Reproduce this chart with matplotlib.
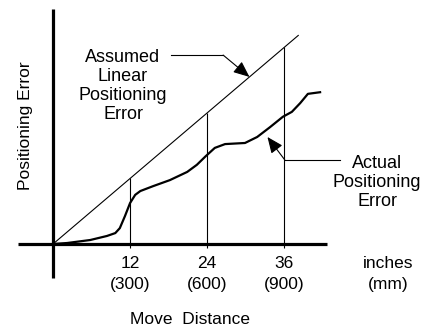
import matplotlib
matplotlib.use("Agg")
import matplotlib.pyplot as plt

plt.rcParams["font.family"] = ["Liberation Sans", "DejaVu Sans"]

# move distance in inches, error in the same units as the linear line
actual_x = [0, 2.2, 5.8, 8.4, 9.7, 10.4, 11.2, 12.0, 12.8, 13.6, 15.6, 18.2,
            20.9, 22.4, 23.8, 25.2, 26.8, 29.9, 31.8, 33.8, 35.8, 37.2, 38.5,
            39.7, 41.6]
actual_y = [0, 0.18, 0.73, 1.47, 2.0, 2.9, 5.1, 7.5, 9.0, 9.7, 10.6, 11.7,
            13.2, 14.5, 16.1, 17.6, 18.3, 18.5, 19.6, 21.4, 23.3, 24.2, 25.8,
            27.5, 27.8]
linear_x = [0, 38.2]
linear_y = [0, 38.2]
ticks = [12, 24, 36]
tick_inch = ["12", "24", "36"]
tick_mm = ["(300)", "(600)", "(900)"]

fig = plt.figure(figsize=(4.3, 3.29), dpi=100)
ax = fig.add_axes([0, 0, 1, 1])
ax.set_xlim(-8.26, 58.72)
ax.set_ylim(-15.57, 44.69)
ax.axis("off")

# axes drawn by hand, the horizontal one sticks out to the left
ax.plot([-5.45, 42.7], [0, 0], color="black", lw=2.3, solid_capstyle="butt")
ax.plot([0, 0], [-6.2, 43.0], color="black", lw=2.3, solid_capstyle="butt")

ax.plot(linear_x, linear_y, color="black", lw=0.8)
ax.vlines(ticks, -0.7, ticks, color="black", lw=0.8)
ax.plot(actual_x, actual_y, color="black", lw=1.6, solid_joinstyle="round")

for t, a, b in zip(ticks, tick_inch, tick_mm):
    ax.text(t, -3.66, a, ha="center", va="center", fontsize=12.5)
    ax.text(t, -7.5, b, ha="center", va="center", fontsize=12.5)
ax.text(52.2, -3.66, "inches", ha="center", va="center", fontsize=12.5)
ax.text(52.2, -7.5, "(mm)", ha="center", va="center", fontsize=12.5)
ax.text(21.3, -13.9, "Move  Distance", ha="center", va="center", fontsize=12.5)
ax.text(-4.36, 21.6, "Positioning Error", ha="center", va="center",
        rotation=90, fontsize=12.5)

ax.text(10.9, 28.9, "Assumed\nLinear\nPositioning\nError", ha="center",
        va="center", fontsize=13, linespacing=1.15)
ax.plot([18.4, 26.5], [34.6, 34.6], color="black", lw=0.8)
ax.annotate("", xy=(30.6, 30.6), xytext=(26.5, 34.6),
            arrowprops=dict(arrowstyle="-|>,head_length=0.7,head_width=0.3",
                            color="black", lw=0.8, shrinkA=0, shrinkB=0,
                            mutation_scale=14))

ax.text(50.5, 11.2, "Actual\nPositioning\nError", ha="center",
        va="center", fontsize=13, linespacing=1.15)
ax.plot([44.7, 36.1], [15.4, 15.4], color="black", lw=0.8)
ax.annotate("", xy=(33.4, 19.6), xytext=(36.1, 15.4),
            arrowprops=dict(arrowstyle="-|>,head_length=0.7,head_width=0.3",
                            color="black", lw=0.8, shrinkA=0, shrinkB=0,
                            mutation_scale=14))

fig.savefig("out.png", dpi=100)
plt.close()
